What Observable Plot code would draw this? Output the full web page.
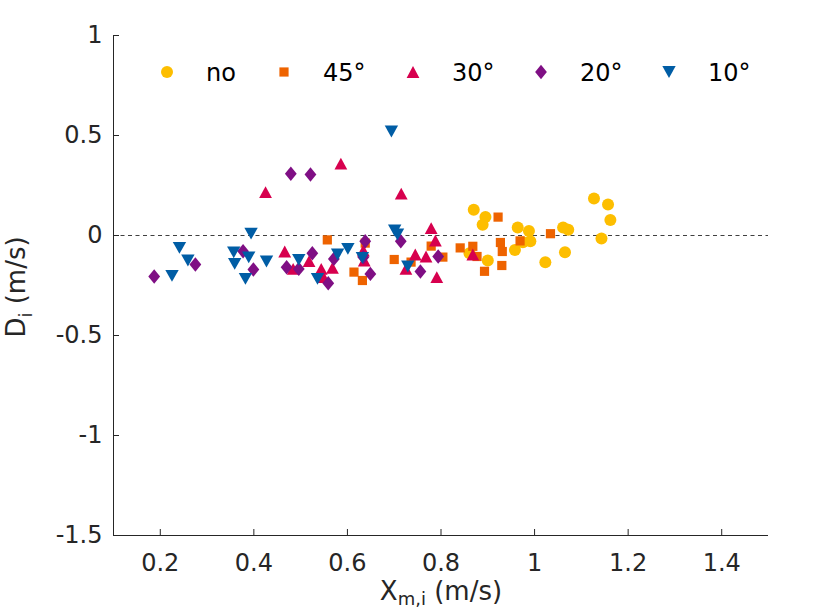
<!DOCTYPE html>
<html>
<head>
<meta charset="utf-8">
<script src="https://cdn.jsdelivr.net/npm/d3@7"></script>
<script src="https://cdn.jsdelivr.net/npm/@observablehq/plot@0.6"></script>
<style>
  html, body { margin: 0; padding: 0; background: #fff; }
  #chart { width: 825px; height: 608px; overflow: hidden; }
</style>
</head>
<body>
<div id="chart"></div>
<script>
// ---- data ----
const seriesNames = ["no", "45°", "30°", "20°", "10°"];
const seriesColors = ["#FDBE00", "#EE6300", "#D7004E", "#7F0F84", "#005DA5"];
const xTicks = [0.2, 0.4, 0.6, 0.8, 1, 1.2, 1.4];
const yTicks = [-1.5, -1, -0.5, 0, 0.5, 1];
const xDomain = [0.1, 1.5];
const yDomain = [-1.5, 1];

const noX = [0.870, 0.895, 0.889, 0.861, 0.900, 0.964, 0.988, 0.991, 0.975, 0.958, 1.023, 1.061, 1.072, 1.065, 1.127, 1.157, 1.162, 1.143];
const noY = [0.129, 0.092, 0.054, -0.089, -0.125, 0.040, 0.022, -0.029, -0.034, -0.072, -0.134, 0.040, 0.029, -0.084, 0.185, 0.155, 0.078, -0.015];

const d45X = [0.922, 1.034, 0.841, 0.868, 0.877, 0.927, 0.931, 0.969, 0.930, 0.893, 0.804, 0.557, 0.638, 0.614, 0.632, 0.700, 0.736, 0.779];
const d45Y = [0.092, 0.009, -0.062, -0.054, -0.105, -0.035, -0.080, -0.027, -0.150, -0.179, -0.108, -0.022, -0.038, -0.183, -0.225, -0.120, -0.133, -0.053];

const d30X = [0.425, 0.586, 0.715, 0.779, 0.788, 0.745, 0.768, 0.725, 0.791, 0.868, 0.466, 0.518, 0.484, 0.544, 0.568, 0.549, 0.634, 0.636];
const d30Y = [0.217, 0.359, 0.209, 0.037, -0.025, -0.095, -0.105, -0.167, -0.208, -0.095, -0.080, -0.128, -0.167, -0.167, -0.162, -0.208, -0.075, -0.125];

const d20X = [0.479, 0.521, 0.187, 0.275, 0.377, 0.399, 0.525, 0.470, 0.496, 0.559, 0.571, 0.638, 0.649, 0.714, 0.756, 0.794, 0.634];
const d20Y = [0.309, 0.305, -0.205, -0.145, -0.079, -0.170, -0.089, -0.159, -0.167, -0.239, -0.117, -0.029, -0.192, -0.029, -0.180, -0.105, -0.109];

const d10X = [0.241, 0.259, 0.225, 0.394, 0.357, 0.359, 0.389, 0.382, 0.427, 0.496, 0.536, 0.579, 0.601, 0.632, 0.701, 0.707, 0.729, 0.694];
const d10Y = [-0.062, -0.125, -0.202, 0.009, -0.084, -0.142, -0.109, -0.217, -0.130, -0.122, -0.217, -0.095, -0.067, -0.112, 0.025, 0.005, -0.155, 0.520];

// ---- marker shapes (MATLAB-like) ----
function poly(ctx, pts) {
  ctx.moveTo(pts[0][0], pts[0][1]);
  for (let i = 1; i < pts.length; i++) ctx.lineTo(pts[i][0], pts[i][1]);
  ctx.closePath();
}
const symCircle = { draw(ctx, size) { const r = Math.sqrt(size / Math.PI); ctx.moveTo(r, 0); ctx.arc(0, 0, r, 0, 2 * Math.PI); } };
const symSquare = { draw(ctx, size) { const k = Math.sqrt(size / Math.PI) / 6; const h = 4.6 * k; poly(ctx, [[-h, -h], [h, -h], [h, h], [-h, h]]); } };
const symTriUp = { draw(ctx, size) { const k = Math.sqrt(size / Math.PI) / 6; poly(ctx, [[0, -5.9 * k], [6.4 * k, 5.9 * k], [-6.4 * k, 5.9 * k]]); } };
const symDiamond = { draw(ctx, size) { const k = Math.sqrt(size / Math.PI) / 6; poly(ctx, [[0, -7.2 * k], [5.9 * k, 0], [0, 7.2 * k], [-5.9 * k, 0]]); } };
const symTriDown = { draw(ctx, size) { const k = Math.sqrt(size / Math.PI) / 6; poly(ctx, [[0, 5.9 * k], [6.7 * k, -5.9 * k], [-6.7 * k, -5.9 * k]]); } };
const symbols = [symCircle, symSquare, symTriUp, symDiamond, symTriDown];

const xs = [noX, d45X, d30X, d20X, d10X];
const ys = [noY, d45Y, d30Y, d20Y, d10Y];
const table = [];
xs.forEach((arr, s) => arr.forEach((x, i) => table.push({ series: seriesNames[s], x, y: ys[s][i] })));

const axisColor = "#262626";
const fontSize = 24;

const marks = [];
// zero reference line
marks.push(Plot.ruleY([0], { stroke: "#404040", strokeWidth: 1.1, strokeDasharray: "4,3.5" }));
// points per series
seriesNames.forEach((name, s) => {
  marks.push(Plot.dot(table.filter(d => d.series === name), {
    x: "x", y: "y", r: 6, symbol: () => symbols[s], fill: seriesColors[s], stroke: "none"
  }));
});
// axis lines
marks.push(Plot.ruleY([yDomain[0]], { stroke: axisColor, strokeWidth: 1 }));
marks.push(Plot.ruleX([xDomain[0]], { stroke: axisColor, strokeWidth: 1 }));
// ticks (inward) and labels
marks.push(Plot.axisX(xTicks, { tickSize: -6, tickFormat: () => "", label: null, stroke: axisColor }));
marks.push(Plot.axisX(xTicks, { tickSize: 0, tickPadding: 18, tickFormat: d => String(d), label: null, fontSize, fill: axisColor }));
marks.push(Plot.axisY(yTicks, { tickSize: -6, tickFormat: () => "", label: null, stroke: axisColor }));
marks.push(Plot.axisY(yTicks, { tickSize: 0, tickPadding: 11, tickFormat: d => String(d), label: null, fontSize, fill: axisColor }));

const chart = Plot.plot({
  width: 825,
  height: 608,
  marginLeft: 113,
  marginRight: 57,
  marginTop: 35,
  marginBottom: 73,
  style: { fontFamily: "DejaVu Sans, sans-serif", background: "#fff", overflow: "hidden" },
  x: { domain: xDomain, ticks: xTicks },
  y: { domain: yDomain, ticks: yTicks },
  symbol: { type: "identity" },
  marks
});
document.getElementById("chart").appendChild(chart);

// ---- axis titles with subscripts & in-plot legend ----
const svg = d3.select(chart);
const xt = svg.append("text")
  .attr("x", 441).attr("y", 600)
  .attr("text-anchor", "middle")
  .attr("font-family", "DejaVu Sans, sans-serif")
  .attr("font-size", 26).attr("fill", axisColor);
xt.append("tspan").text("X");
xt.append("tspan").attr("font-size", 18).attr("dy", 5).text("m,i");
xt.append("tspan").attr("dy", -5).text(" (m/s)");

const yt = svg.append("text")
  .attr("transform", "translate(25,287) rotate(-90)")
  .attr("text-anchor", "middle")
  .attr("font-family", "DejaVu Sans, sans-serif")
  .attr("font-size", 26).attr("fill", axisColor);
yt.append("tspan").text("D");
yt.append("tspan").attr("font-size", 18).attr("dy", 7).text("i");
yt.append("tspan").attr("dy", -7).text(" (m/s)");

const legendMarkerX = [167, 284, 413, 541, 669];
const legendSymbols = [
  { draw(ctx) { ctx.moveTo(6, 0); ctx.arc(0, 0, 6, 0, 2 * Math.PI); } },
  { draw(ctx) { poly(ctx, [[-4.6, -4.6], [4.6, -4.6], [4.6, 4.6], [-4.6, 4.6]]); } },
  { draw(ctx) { poly(ctx, [[0, -5.9], [6.4, 5.9], [-6.4, 5.9]]); } },
  { draw(ctx) { poly(ctx, [[0, -7.2], [5.9, 0], [0, 7.2], [-5.9, 0]]); } },
  { draw(ctx) { poly(ctx, [[0, 5.9], [6.7, -5.9], [-6.7, -5.9]]); } }
];
const lg = svg.append("g")
  .attr("font-family", "DejaVu Sans, sans-serif")
  .attr("font-size", fontSize)
  .attr("text-anchor", "start");
seriesNames.forEach((name, s) => {
  lg.append("path")
    .attr("transform", `translate(${legendMarkerX[s]},72)`)
    .attr("d", d3.symbol(legendSymbols[s])())
    .attr("fill", seriesColors[s]);
  lg.append("text")
    .attr("x", legendMarkerX[s] + 39).attr("y", 81)
    .attr("text-anchor", "start")
    .attr("fill", "#000")
    .text(name);
});
</script>
</body>
</html>
